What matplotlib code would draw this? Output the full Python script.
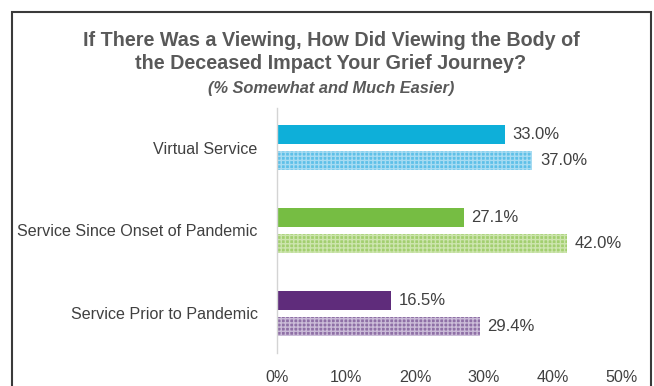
import matplotlib
matplotlib.use("Agg")
import matplotlib.pyplot as plt
from matplotlib.patches import Rectangle
import numpy as np

plt.rcParams["font.family"] = ["Liberation Sans", "DejaVu Sans"]
plt.rcParams["hatch.linewidth"] = 1.0

# survey results (% somewhat / much easier)
categories = ["Virtual Service", "Service Since Onset of Pandemic", "Service Prior to Pandemic"]
solid_vals = [33.0, 27.1, 16.5]
hatched_vals = [37.0, 42.0, 29.4]
xticks = [0, 10, 20, 30, 40, 50]

solid_colors = ["#0eafd9", "#76bd43", "#5f2c7b"]
hatch_base = ["#5ec0e8", "#a3cf70", "#8f70a6"]
hatch_line = ["#a8dcf2", "#cde5ae", "#cbbcd8"]

TEXT = "#404040"
TITLE = "#595959"

fig = plt.figure(figsize=(6.54, 3.86), dpi=100)
ax = fig.add_axes([0.4235, 0.0855, 0.5275, 0.6347])

y = np.arange(len(categories))
h = 0.235
off = 0.157

for i in range(len(categories)):
    ax.barh(y[i] - off, solid_vals[i], height=h, color=solid_colors[i], linewidth=0)
    ax.barh(y[i] + off, hatched_vals[i], height=h, facecolor=hatch_base[i],
            edgecolor=hatch_line[i], hatch="++++", linewidth=0)
    ax.text(solid_vals[i] + 1.1, y[i] - off, f"{solid_vals[i]:.1f}%",
            va="center", ha="left", fontsize=12, color=TEXT)
    ax.text(hatched_vals[i] + 1.1, y[i] + off, f"{hatched_vals[i]:.1f}%",
            va="center", ha="left", fontsize=12, color=TEXT)

ax.set_xlim(0, 50)
ax.set_ylim(2.48, -0.48)
ax.set_yticks(y)
ax.set_yticklabels(categories, fontsize=11.6, color=TEXT)
ax.set_xticks(xticks)
ax.set_xticklabels([f"{t}%" for t in xticks], fontsize=11.6, color=TEXT)
ax.tick_params(axis="both", length=0)
ax.tick_params(axis="x", pad=12)
ax.tick_params(axis="y", pad=14)
for side in ["top", "right", "bottom"]:
    ax.spines[side].set_visible(False)
ax.spines["left"].set_color("#d4d4d4")
ax.spines["left"].set_linewidth(1.0)

fig.text(0.506, 0.865, "If There Was a Viewing, How Did Viewing the Body of\n"
         "the Deceased Impact Your Grief Journey?",
         ha="center", va="center", fontsize=14.2, fontweight="bold",
         color=TITLE, linespacing=1.25)
fig.text(0.506, 0.771, "(% Somewhat and Much Easier)", ha="center", va="center",
         fontsize=11.8, fontweight="bold", fontstyle="italic", color=TITLE)

# outer frame
fig.patches.append(Rectangle((12 / 654, -0.05), 639 / 654, 1.019, transform=fig.transFigure,
                             fill=False, edgecolor="#3a3a3a", linewidth=1.5))

fig.savefig("out.png", dpi=100)
